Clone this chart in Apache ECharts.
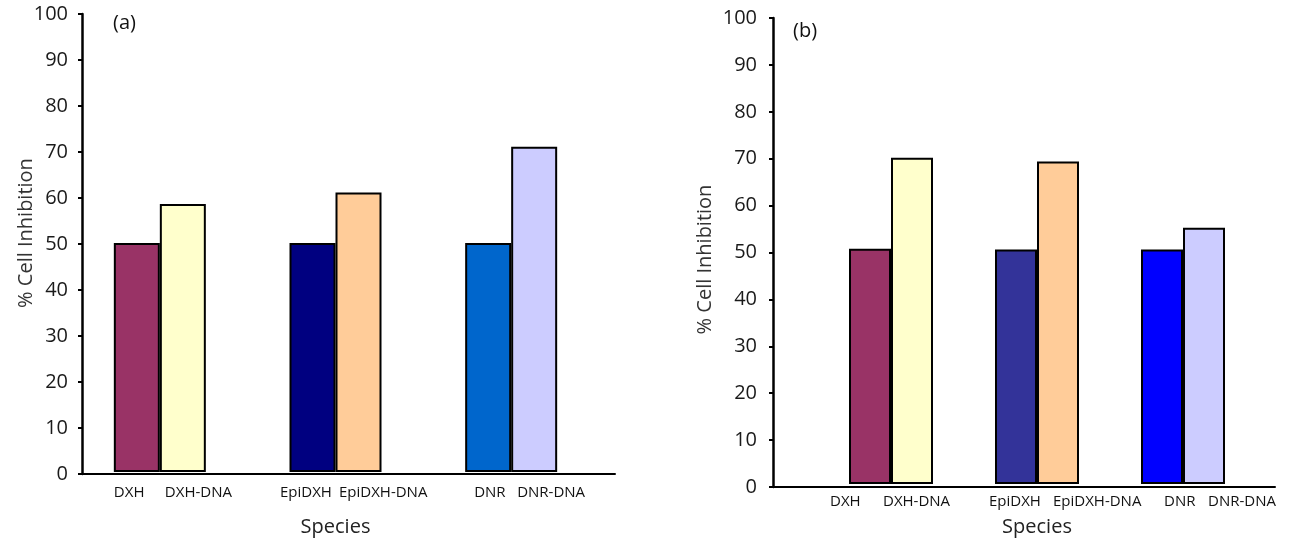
<!DOCTYPE html>
<html>
<head>
<meta charset="utf-8">
<script src="https://cdn.jsdelivr.net/npm/echarts@6/dist/echarts.min.js"></script>
<style>
  html, body { margin: 0; padding: 0; background: #ffffff; }
  #chart { width: 1293px; height: 542px; }
</style>
</head>
<body>
<div id="chart"></div>
<script>
// Drug species and their DNA-bound complexes
const species = ['DXH', 'EpiDXH', 'DNR'];
const complexes = ['DXH-DNA', 'EpiDXH-DNA', 'DNR-DNA'];

// % cell inhibition, panel (a)
const freeA = [50, 50, 50];
const complexA = [58.5, 61, 71];

// % cell inhibition, panel (b)
const freeB = [50.5, 50.3, 50.3];
const complexB = [70, 69.2, 55];

// Bar fills
const freeColorsA = ['#993366', '#000080', '#0066CC'];
const complexColorsA = ['#FFFFCC', '#FFCC99', '#CCCCFF'];
const freeColorsB = ['#993366', '#333399', '#0000FF'];
const complexColorsB = ['#FFFFCC', '#FFCC99', '#CCCCFF'];

const FONT = 'Open Sans';
const COMPLEX_SLOT = 100;
const chart = echarts.init(document.getElementById('chart'), null, { renderer: 'canvas' });

// Panel geometry: a frame grid carrying the visible axes, and a bar grid for the groups.
// Each category label is a spacer, the free drug name and the complex name;
// `lead` is how far the free name starts left of its bar, `slot` the room it takes.
const panels = [
  { frame: { left: 82, top: 14, width: 533, height: 460 },
    bars:  { left: 72, top: 14, width: 527, height: 460 },
    barW: 46, lead: [0, 9.5, -9], slot: [51, 59, 43],
    labelMargin: 13, yLabelMargin: 14, yNameGap: 46, yNamePad: [0, 0, 0, 22], xNameGap: 45,
    free: freeA, complex: complexA, freeColors: freeColorsA, complexColors: complexColorsA,
    tag: '(a)', tagPos: { left: 108, top: 8 } },
  { frame: { left: 773, top: 18, width: 502, height: 469 },
    bars:  { left: 818, top: 18, width: 438, height: 469 },
    barW: 42, lead: [19, 6, -23], slot: [53, 64, 44],
    labelMargin: 10, yLabelMargin: 16, yNameGap: 58, yNamePad: [0, 14, 0, 0], xNameGap: 33,
    free: freeB, complex: complexB, freeColors: freeColorsB, complexColors: complexColorsB,
    tag: '(b)', tagPos: { left: 788, top: 16 } }
];

const grid = [], xAxis = [], yAxis = [], series = [], title = [];

panels.forEach((p) => {
  const gFrame = grid.length;
  grid.push(Object.assign({ containLabel: false }, p.frame));
  const gBars = grid.length;
  grid.push(Object.assign({ containLabel: false }, p.bars));

  // Frame axes
  xAxis.push({
    gridIndex: gFrame, type: 'value', min: 0, max: 1,
    axisLine: { show: true, lineStyle: { color: '#000', width: 2 } },
    axisTick: { show: false }, axisLabel: { show: false }, splitLine: { show: false }
  });
  yAxis.push({
    gridIndex: gFrame, type: 'value', min: 0, max: 100, interval: 10,
    name: '% Cell Inhibition', nameLocation: 'middle', nameGap: p.yNameGap, nameMoveOverlap: false,
    nameTextStyle: { fontFamily: FONT, fontSize: 20, color: '#333', padding: p.yNamePad },
    axisLine: { show: true, lineStyle: { color: '#000', width: 2.5 } },
    axisTick: { show: true, inside: false, length: 4, lineStyle: { color: '#000', width: 2 } },
    axisLabel: { fontFamily: FONT, fontSize: 20, color: '#1a1a1a', margin: p.yLabelMargin },
    splitLine: { show: false }
  });

  // Rich-text styles for the two-part category labels
  const txt = { fontFamily: FONT, fontSize: 15, color: '#111', align: 'left' };
  const rich = { c: Object.assign({ width: COMPLEX_SLOT }, txt) };
  species.forEach((_, i) => {
    rich['f' + i] = Object.assign({ width: p.slot[i] }, txt);
    rich['s' + i] = Object.assign({ width: p.slot[i] + COMPLEX_SLOT - 2 * (p.barW + p.lead[i]) }, txt);
  });

  const xIdx = xAxis.length;
  xAxis.push({
    gridIndex: gBars, type: 'category', data: species,
    name: 'Species', nameLocation: 'middle', nameGap: p.xNameGap, nameMoveOverlap: false,
    nameTextStyle: { fontFamily: FONT, fontSize: 20, color: '#222' },
    axisLine: { show: false }, axisTick: { show: false },
    axisLabel: {
      interval: 0, margin: p.labelMargin,
      formatter: (v, i) => '{s' + i + '| }{f' + i + '|' + v + '}{c|' + complexes[i] + '}',
      rich
    }
  });
  const yIdx = yAxis.length;
  yAxis.push({ gridIndex: gBars, type: 'value', min: 0, max: 100, show: false });

  const style = { borderColor: '#000', borderWidth: 2 };
  series.push({
    type: 'bar', xAxisIndex: xIdx, yAxisIndex: yIdx, barWidth: p.barW, barGap: '0%',
    data: p.free.map((v, i) => ({ value: v, itemStyle: Object.assign({ color: p.freeColors[i] }, style) }))
  });
  series.push({
    type: 'bar', xAxisIndex: xIdx, yAxisIndex: yIdx, barWidth: p.barW, barGap: '0%',
    data: p.complex.map((v, i) => ({ value: v, itemStyle: Object.assign({ color: p.complexColors[i] }, style) }))
  });

  title.push({
    text: p.tag, left: p.tagPos.left, top: p.tagPos.top,
    textStyle: { fontFamily: FONT, fontSize: 20, fontWeight: 'normal', color: '#111' }
  });
});

chart.setOption({
  backgroundColor: '#ffffff',
  animation: false,
  title, grid, xAxis, yAxis, series
});
</script>
</body>
</html>
